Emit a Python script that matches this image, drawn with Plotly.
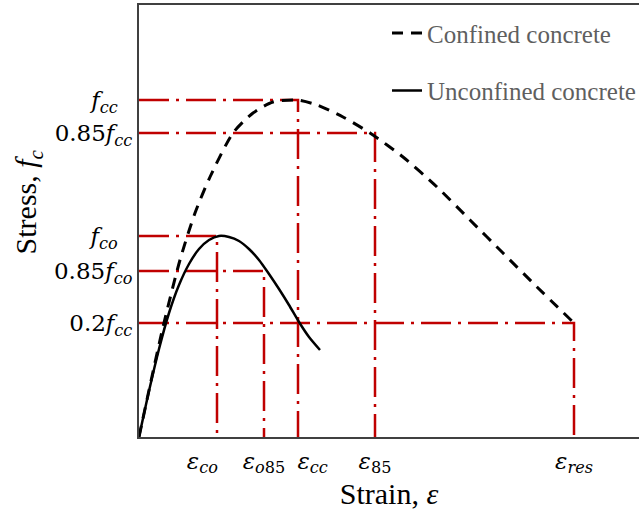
import plotly.graph_objects as go

# ---- data (arbitrary schematic units) ----
confined_x = [0.00, 0.12, 0.24, 0.41, 0.56, 0.71, 0.94, 1.14, 1.34, 1.58, 1.78, 2.04, 2.31, 2.64, 2.98, 3.31, 3.64, 3.98, 4.35]
confined_y = [0.00, 0.56, 1.10, 1.77, 2.24, 2.60, 3.04, 3.24, 3.35, 3.37, 3.32, 3.20, 3.04, 2.80, 2.50, 2.17, 1.84, 1.50, 1.14]

unconfined_x = [0.00, 0.10, 0.20, 0.30, 0.40, 0.50, 0.60, 0.70, 0.80, 0.90, 1.00, 1.10, 1.20, 1.30, 1.40, 1.50, 1.60, 1.70, 1.81]
unconfined_y = [0.00, 0.46, 0.88, 1.24, 1.52, 1.73, 1.88, 1.97, 2.01, 2.00, 1.96, 1.88, 1.77, 1.63, 1.48, 1.32, 1.15, 1.00, 0.87]

# characteristic points (strain, stress)
mark_strain = [0.78, 1.25, 1.59, 2.36, 4.35]
mark_stress = [2.01, 1.66, 3.37, 3.04, 1.14]

NB = "&nbsp;"
strain_labels = ["<i>ε</i><sub><i>co</i></sub>" + NB * 4,
                 "<i>ε</i><sub><i>o</i>85</sub>",
                 NB * 4 + "<i>ε</i><sub><i>cc</i></sub>",
                 "<i>ε</i><sub>85</sub>",
                 "<i>ε</i><sub><i>res</i></sub>"]

stress_ticks = [3.37, 3.04, 2.01, 1.66, 1.14]
stress_labels = ["<i>f</i><sub><i>cc</i></sub>" + NB * 2,
                 "0.85<i>f</i><sub><i>cc</i></sub>",
                 "<i>f</i><sub><i>co</i></sub>" + NB * 2,
                 "0.85<i>f</i><sub><i>co</i></sub>",
                 "0.2<i>f</i><sub><i>cc</i></sub>"]

RED = "#C00000"
FONT = "Liberation Serif"
MATH = "DejaVu Serif"

fig = go.Figure()

# red dash-dot guide lines: (0,y)->(x,y)->(x,0)
for ex, sy in zip(mark_strain, mark_stress):
    fig.add_trace(go.Scatter(
        x=[0, ex, ex], y=[sy, sy, 0], mode="lines",
        line=dict(color=RED, width=2.5, dash="30px,7px,3px,7px"),
        showlegend=False, hoverinfo="skip"))

fig.add_trace(go.Scatter(
    x=confined_x, y=confined_y, mode="lines", name="Confined concrete",
    line=dict(color="black", width=3, dash="11px,8px", shape="spline", smoothing=0.7),
    legendgroup="a"))
fig.add_trace(go.Scatter(
    x=unconfined_x, y=unconfined_y, mode="lines", name="Unconfined concrete",
    line=dict(color="black", width=2.5, shape="spline", smoothing=0.7),
    legendgroup="b"))

fig.update_layout(
    width=639, height=510,
    margin=dict(l=139, r=0, t=5, b=73, autoexpand=False),
    plot_bgcolor="white", paper_bgcolor="white",
    font=dict(family=FONT, color="black"),
    legend=dict(x=0.496, y=0.988, xanchor="left", yanchor="top",
                traceorder="grouped", tracegroupgap=22,
                font=dict(family=FONT, size=25, color="#5f5f5f"),
                bgcolor="rgba(0,0,0,0)"),
    xaxis=dict(range=[0, 5.0], showgrid=False, zeroline=False,
               showline=True, linecolor="#404040", linewidth=2, mirror=True,
               ticks="", tickvals=mark_strain, ticktext=strain_labels, tickangle=0,
               tickfont=dict(size=23, family=MATH), ticklabelstandoff=2,
               title=dict(text="Strain, <i>ε</i>", font=dict(size=30, family=FONT), standoff=4)),
    yaxis=dict(range=[0, 4.32], showgrid=False, zeroline=False,
               showline=True, linecolor="#404040", linewidth=2,
               ticks="", tickvals=stress_ticks, ticktext=stress_labels,
               tickfont=dict(size=23, family=MATH), ticklabelstandoff=0,
               title=dict(text=NB * 5 + "Stress, <i>f</i><sub><i>c</i></sub>",
                          font=dict(size=30, family=FONT), standoff=8)),
)

fig.write_html("out.html")
